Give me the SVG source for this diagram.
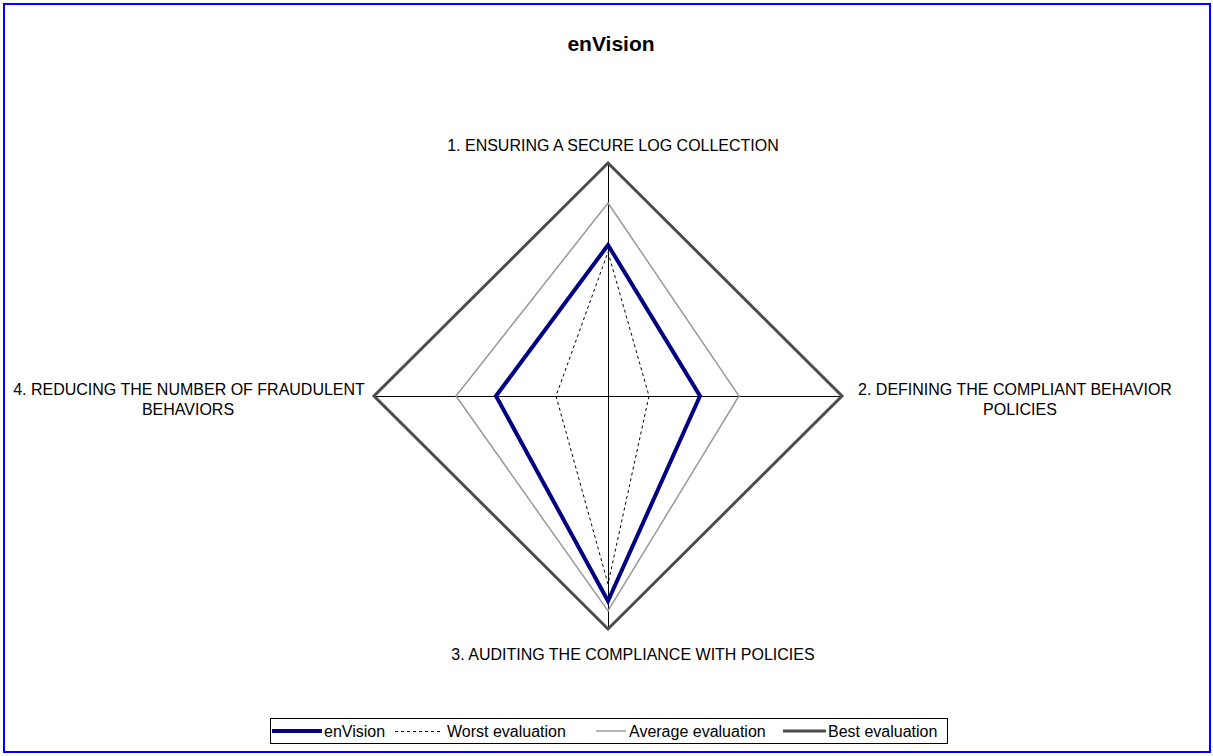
<svg xmlns="http://www.w3.org/2000/svg" width="1213" height="756" viewBox="0 0 1213 756">
<style>
text{font-family:"Liberation Sans",Arial,sans-serif;font-size:16px;fill:#000}
.title{font-size:21px;font-weight:bold}
.axis{stroke:#000;stroke-width:1;fill:none}
.best{stroke:#4d4d4d;stroke-width:3;fill:none;stroke-linejoin:miter}
.avg{stroke:#999;stroke-width:1.5;fill:none}
.worst{stroke:#000;stroke-width:1;stroke-dasharray:3,3;fill:none}
.env{stroke:#000080;stroke-width:4;fill:none;stroke-linejoin:miter}
</style>
<rect x="0" y="0" width="1213" height="756" fill="#fff"/>
<rect x="4" y="4" width="1206" height="748" fill="none" stroke="#0000ff" stroke-width="2"/>
<text class="title" x="611" y="51" text-anchor="middle">enVision</text>
<g id="connectors">
<line class="axis" x1="608.5" y1="163" x2="608.5" y2="629"/>
<line class="axis" x1="374" y1="396.5" x2="842" y2="396.5"/>
<polygon class="best" points="608,163 842,396 608,629 374,396"/>
<polygon class="avg" points="608,203 739,396 608,611 456,396"/>
<polygon class="worst" points="608,252 649,396 608,584 556,396"/>
<polygon class="env" points="608,245 700,396 608,601 496,396"/>
</g>
<g id="axis1"><text x="613" y="151" text-anchor="middle">1. ENSURING A SECURE LOG COLLECTION</text></g>
<g id="axis2"><text x="1015" y="395" text-anchor="middle">2. DEFINING THE COMPLIANT BEHAVIOR</text><text x="1020" y="415" text-anchor="middle">POLICIES</text></g>
<g id="axis3"><text x="633" y="660" text-anchor="middle">3. AUDITING THE COMPLIANCE WITH POLICIES</text></g>
<g id="axis4"><text x="189" y="395" text-anchor="middle">4. REDUCING THE NUMBER OF FRAUDULENT</text><text x="188" y="415" text-anchor="middle">BEHAVIORS</text></g>
<g id="legend">
<rect x="270.5" y="718.5" width="677" height="25" fill="#fff" stroke="#000" stroke-width="1"/>
<line class="env" x1="272" y1="731" x2="322" y2="731"/>
<text x="324" y="737">enVision</text>
<line class="worst" x1="395" y1="731.5" x2="443" y2="731.5"/>
<text x="447" y="737">Worst evaluation</text>
<line class="avg" x1="596" y1="731" x2="626" y2="731"/>
<text x="629" y="737">Average evaluation</text>
<line class="best" x1="783" y1="731" x2="826" y2="731"/>
<text x="828" y="737">Best evaluation</text>
</g>
</svg>
